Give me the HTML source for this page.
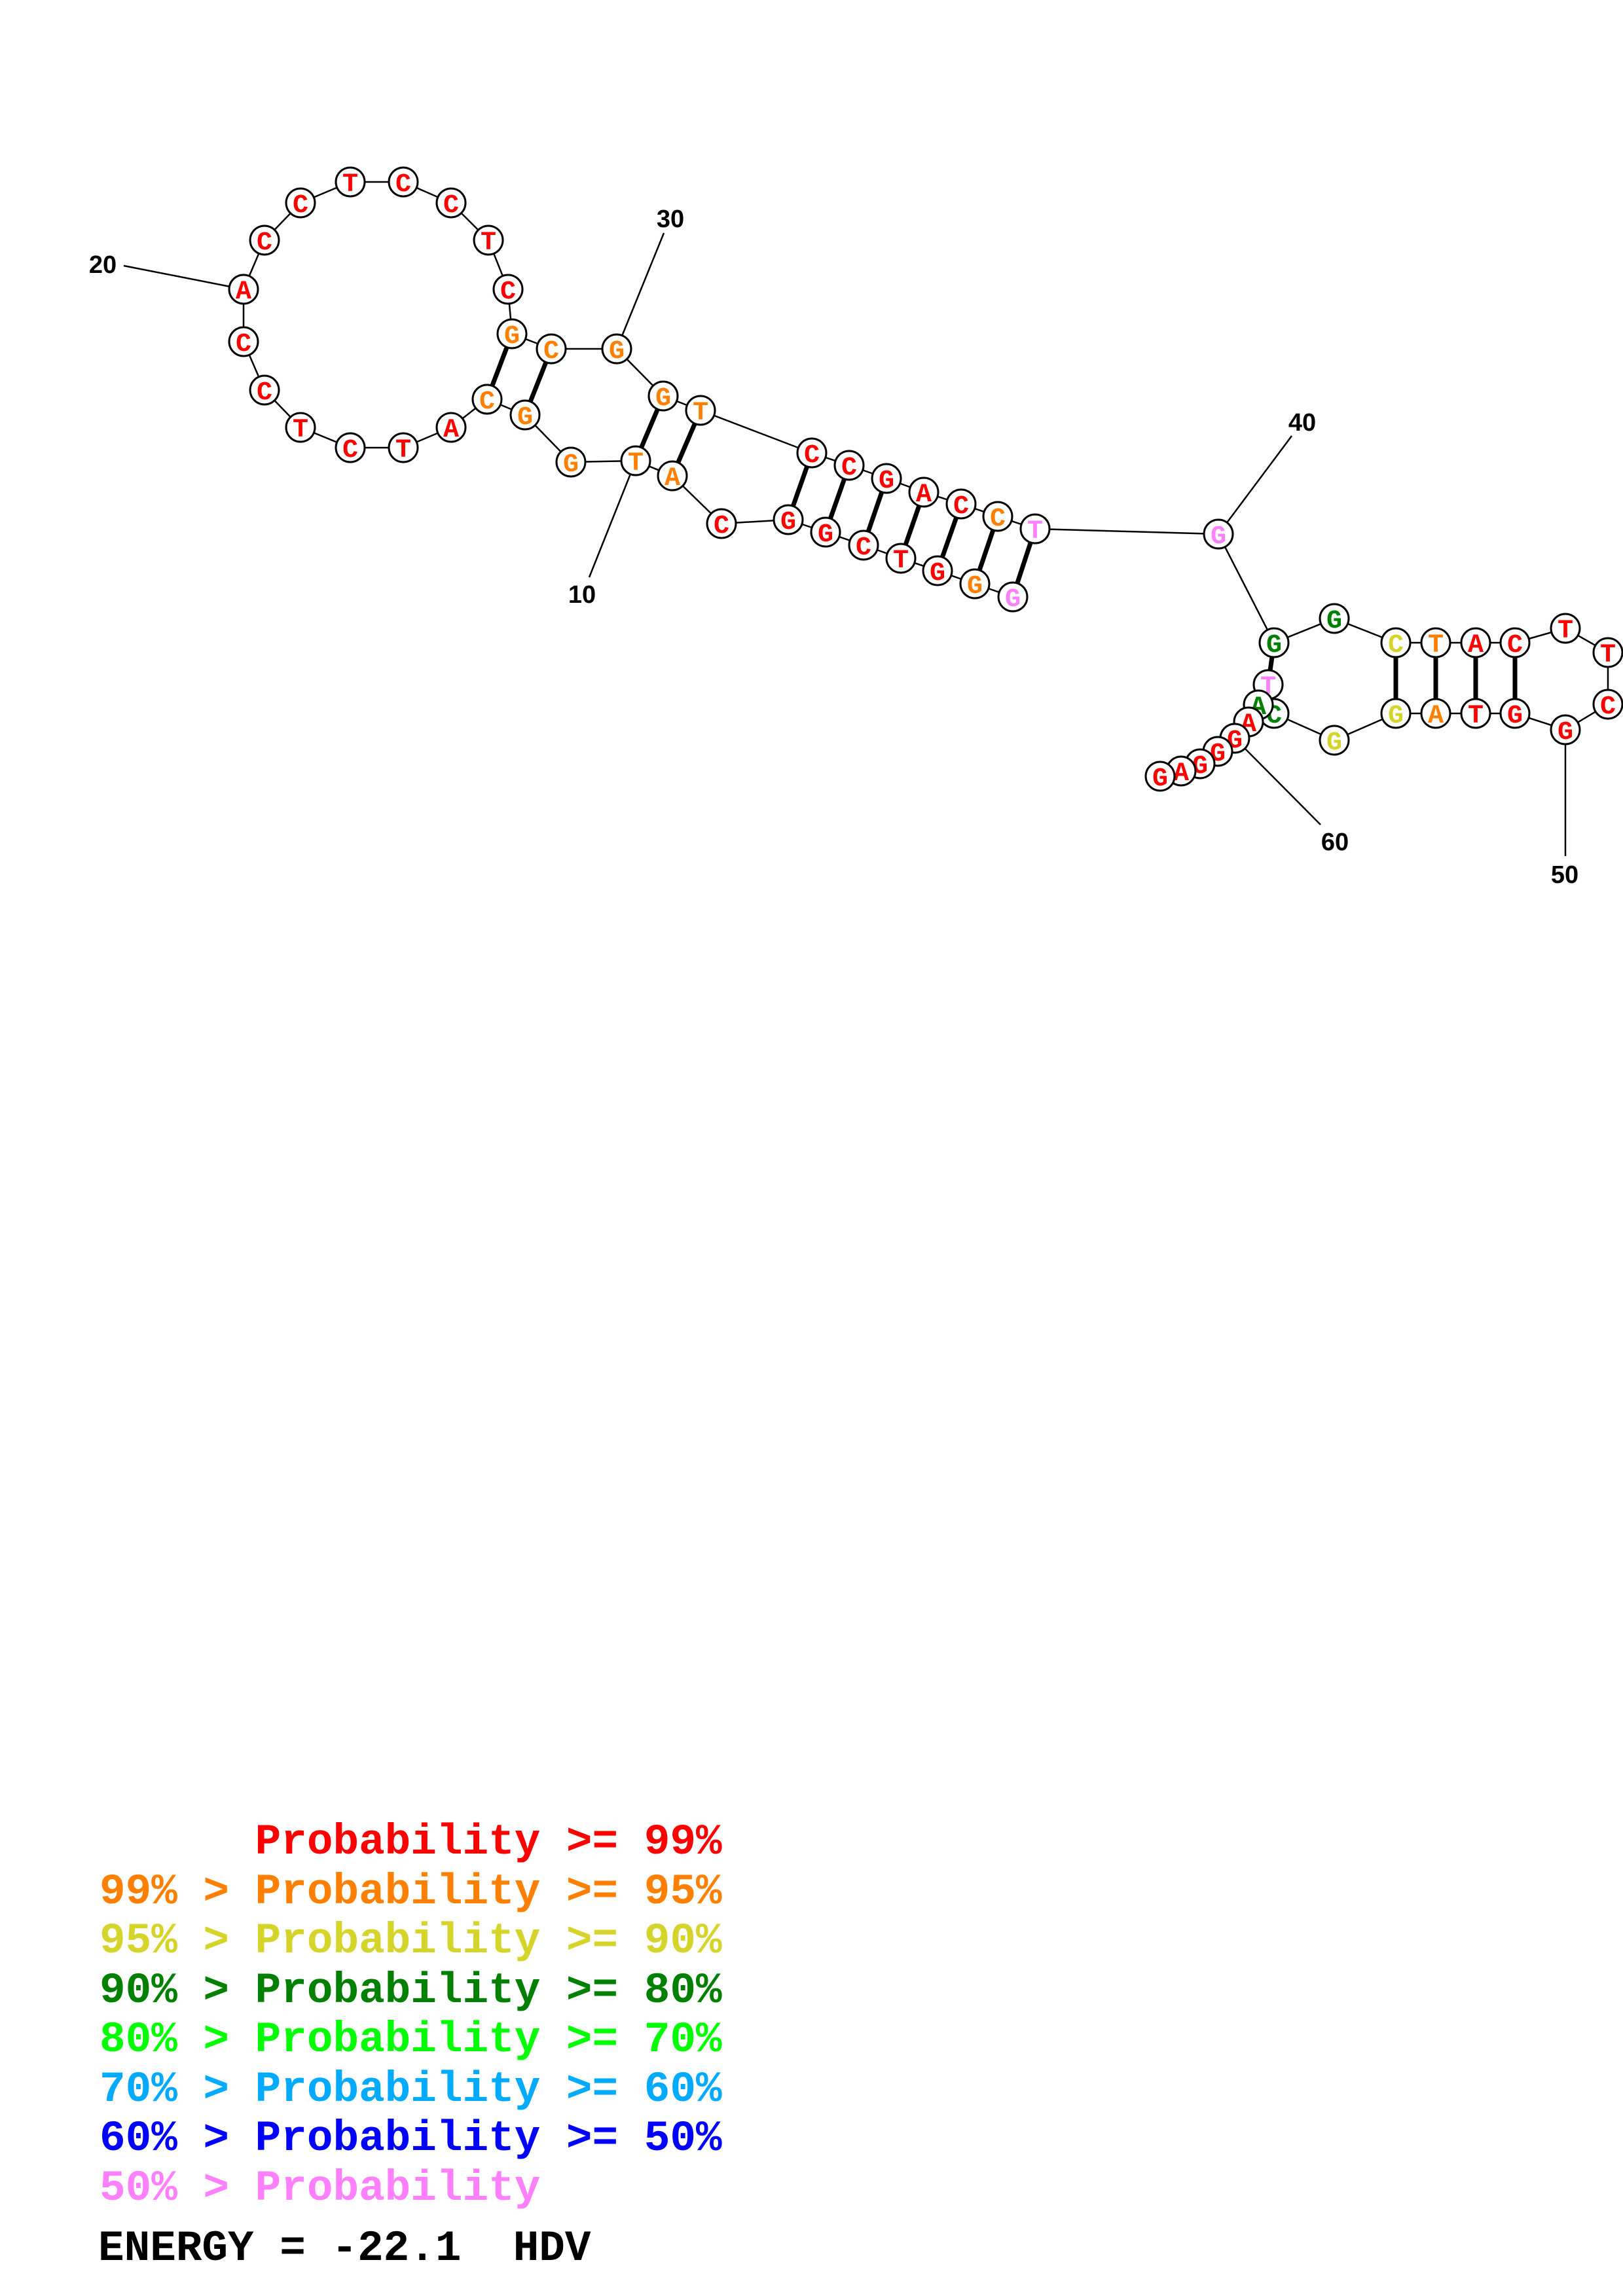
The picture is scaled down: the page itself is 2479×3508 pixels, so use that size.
<!DOCTYPE html>
<html><head><meta charset="utf-8"><style>
html,body{margin:0;padding:0;background:#fff;}
svg{display:block;}
.n text{font-family:"Liberation Mono",monospace;font-weight:bold;font-size:40px;text-anchor:middle;}
.lg{font-family:"Liberation Mono",monospace;font-weight:bold;font-size:66px;white-space:pre;}
.lb{font-family:"Liberation Sans",sans-serif;font-weight:bold;font-size:38px;text-anchor:middle;}
</style></head><body>
<svg width="2479" height="3508" viewBox="0 0 2479 3508" xmlns="http://www.w3.org/2000/svg">
<rect width="2479" height="3508" fill="#fff"/>
<g stroke="#000" stroke-width="2.5" fill="none">
<polyline points="1547,912 1489,892 1432,872 1376,853 1319,833 1261,813 1204,794 1102,800 1027,727 971,704 872,706 802,634 744,610 689,653 616,684 535,684 459,653 404,596 372,522 372,442 404,367 459,310 535,278 616,278 689,310 746,367 776,442 782,510 842,533 942,533 1013,605 1070,627 1240,692 1297,711 1354,731 1411,752 1468,770 1524,789 1581,808 1861,816 1946,982 2038,945 2132,982 2193,982 2254,982 2314,982 2391,960 2456,997 2456,1076 2391,1115 2314,1090 2254,1090 2193,1090 2132,1090 2038,1131 1946,1090 1937,1046 1922,1077 1907,1103 1886,1128 1860,1148 1833,1167 1804,1178 1772,1186"/>
<line x1="189" y1="406" x2="372" y2="442"/>
<line x1="1014" y1="356" x2="942" y2="533"/>
<line x1="1973" y1="666" x2="1861" y2="816"/>
<line x1="2391" y1="1115" x2="2391" y2="1308"/>
<line x1="1886" y1="1128" x2="2017" y2="1260"/>
<line x1="971" y1="704" x2="900" y2="882"/>
</g>
<g stroke="#000" stroke-width="7">
<line x1="1581" y1="808" x2="1547" y2="912"/>
<line x1="1524" y1="789" x2="1489" y2="892"/>
<line x1="1468" y1="770" x2="1432" y2="872"/>
<line x1="1411" y1="752" x2="1376" y2="853"/>
<line x1="1354" y1="731" x2="1319" y2="833"/>
<line x1="1297" y1="711" x2="1261" y2="813"/>
<line x1="1240" y1="692" x2="1204" y2="794"/>
<line x1="1070" y1="627" x2="1027" y2="727"/>
<line x1="1013" y1="605" x2="971" y2="704"/>
<line x1="842" y1="533" x2="802" y2="634"/>
<line x1="782" y1="510" x2="744" y2="610"/>
<line x1="1946" y1="982" x2="1937" y2="1046"/>
<line x1="2132" y1="982" x2="2132" y2="1090"/>
<line x1="2193" y1="982" x2="2193" y2="1090"/>
<line x1="2254" y1="982" x2="2254" y2="1090"/>
<line x1="2314" y1="982" x2="2314" y2="1090"/>
</g>
<text class="lb" x="157" y="417">20</text>
<text class="lb" x="1024" y="347">30</text>
<text class="lb" x="1989" y="658">40</text>
<text class="lb" x="889" y="921">10</text>
<text class="lb" x="2390" y="1349">50</text>
<text class="lb" x="2039" y="1299">60</text>
<g class="n" stroke="#000" stroke-width="3">
<g><circle cx="1547" cy="912" r="22" fill="#fff"/><text x="1547" y="926" fill="#ff80ff" stroke="none">G</text></g>
<g><circle cx="1489" cy="892" r="22" fill="#fff"/><text x="1489" y="906" fill="#ff8000" stroke="none">G</text></g>
<g><circle cx="1432" cy="872" r="22" fill="#fff"/><text x="1432" y="886" fill="#ff0000" stroke="none">G</text></g>
<g><circle cx="1376" cy="853" r="22" fill="#fff"/><text x="1376" y="867" fill="#ff0000" stroke="none">T</text></g>
<g><circle cx="1319" cy="833" r="22" fill="#fff"/><text x="1319" y="847" fill="#ff0000" stroke="none">C</text></g>
<g><circle cx="1261" cy="813" r="22" fill="#fff"/><text x="1261" y="827" fill="#ff0000" stroke="none">G</text></g>
<g><circle cx="1204" cy="794" r="22" fill="#fff"/><text x="1204" y="808" fill="#ff0000" stroke="none">G</text></g>
<g><circle cx="1102" cy="800" r="22" fill="#fff"/><text x="1102" y="814" fill="#ff0000" stroke="none">C</text></g>
<g><circle cx="1027" cy="727" r="22" fill="#fff"/><text x="1027" y="741" fill="#ff8000" stroke="none">A</text></g>
<g><circle cx="971" cy="704" r="22" fill="#fff"/><text x="971" y="718" fill="#ff8000" stroke="none">T</text></g>
<g><circle cx="872" cy="706" r="22" fill="#fff"/><text x="872" y="720" fill="#ff8000" stroke="none">G</text></g>
<g><circle cx="802" cy="634" r="22" fill="#fff"/><text x="802" y="648" fill="#ff8000" stroke="none">G</text></g>
<g><circle cx="744" cy="610" r="22" fill="#fff"/><text x="744" y="624" fill="#ff8000" stroke="none">C</text></g>
<g><circle cx="689" cy="653" r="22" fill="#fff"/><text x="689" y="667" fill="#ff0000" stroke="none">A</text></g>
<g><circle cx="616" cy="684" r="22" fill="#fff"/><text x="616" y="698" fill="#ff0000" stroke="none">T</text></g>
<g><circle cx="535" cy="684" r="22" fill="#fff"/><text x="535" y="698" fill="#ff0000" stroke="none">C</text></g>
<g><circle cx="459" cy="653" r="22" fill="#fff"/><text x="459" y="667" fill="#ff0000" stroke="none">T</text></g>
<g><circle cx="404" cy="596" r="22" fill="#fff"/><text x="404" y="610" fill="#ff0000" stroke="none">C</text></g>
<g><circle cx="372" cy="522" r="22" fill="#fff"/><text x="372" y="536" fill="#ff0000" stroke="none">C</text></g>
<g><circle cx="372" cy="442" r="22" fill="#fff"/><text x="372" y="456" fill="#ff0000" stroke="none">A</text></g>
<g><circle cx="404" cy="367" r="22" fill="#fff"/><text x="404" y="381" fill="#ff0000" stroke="none">C</text></g>
<g><circle cx="459" cy="310" r="22" fill="#fff"/><text x="459" y="324" fill="#ff0000" stroke="none">C</text></g>
<g><circle cx="535" cy="278" r="22" fill="#fff"/><text x="535" y="292" fill="#ff0000" stroke="none">T</text></g>
<g><circle cx="616" cy="278" r="22" fill="#fff"/><text x="616" y="292" fill="#ff0000" stroke="none">C</text></g>
<g><circle cx="689" cy="310" r="22" fill="#fff"/><text x="689" y="324" fill="#ff0000" stroke="none">C</text></g>
<g><circle cx="746" cy="367" r="22" fill="#fff"/><text x="746" y="381" fill="#ff0000" stroke="none">T</text></g>
<g><circle cx="776" cy="442" r="22" fill="#fff"/><text x="776" y="456" fill="#ff0000" stroke="none">C</text></g>
<g><circle cx="782" cy="510" r="22" fill="#fff"/><text x="782" y="524" fill="#ff8000" stroke="none">G</text></g>
<g><circle cx="842" cy="533" r="22" fill="#fff"/><text x="842" y="547" fill="#ff8000" stroke="none">C</text></g>
<g><circle cx="942" cy="533" r="22" fill="#fff"/><text x="942" y="547" fill="#ff8000" stroke="none">G</text></g>
<g><circle cx="1013" cy="605" r="22" fill="#fff"/><text x="1013" y="619" fill="#ff8000" stroke="none">G</text></g>
<g><circle cx="1070" cy="627" r="22" fill="#fff"/><text x="1070" y="641" fill="#ff8000" stroke="none">T</text></g>
<g><circle cx="1240" cy="692" r="22" fill="#fff"/><text x="1240" y="706" fill="#ff0000" stroke="none">C</text></g>
<g><circle cx="1297" cy="711" r="22" fill="#fff"/><text x="1297" y="725" fill="#ff0000" stroke="none">C</text></g>
<g><circle cx="1354" cy="731" r="22" fill="#fff"/><text x="1354" y="745" fill="#ff0000" stroke="none">G</text></g>
<g><circle cx="1411" cy="752" r="22" fill="#fff"/><text x="1411" y="766" fill="#ff0000" stroke="none">A</text></g>
<g><circle cx="1468" cy="770" r="22" fill="#fff"/><text x="1468" y="784" fill="#ff0000" stroke="none">C</text></g>
<g><circle cx="1524" cy="789" r="22" fill="#fff"/><text x="1524" y="803" fill="#ff8000" stroke="none">C</text></g>
<g><circle cx="1581" cy="808" r="22" fill="#fff"/><text x="1581" y="822" fill="#ff80ff" stroke="none">T</text></g>
<g><circle cx="1861" cy="816" r="22" fill="#fff"/><text x="1861" y="830" fill="#ff80ff" stroke="none">G</text></g>
<g><circle cx="1946" cy="982" r="22" fill="#fff"/><text x="1946" y="996" fill="#008000" stroke="none">G</text></g>
<g><circle cx="2038" cy="945" r="22" fill="#fff"/><text x="2038" y="959" fill="#008000" stroke="none">G</text></g>
<g><circle cx="2132" cy="982" r="22" fill="#fff"/><text x="2132" y="996" fill="#d4d42a" stroke="none">C</text></g>
<g><circle cx="2193" cy="982" r="22" fill="#fff"/><text x="2193" y="996" fill="#ff8000" stroke="none">T</text></g>
<g><circle cx="2254" cy="982" r="22" fill="#fff"/><text x="2254" y="996" fill="#ff0000" stroke="none">A</text></g>
<g><circle cx="2314" cy="982" r="22" fill="#fff"/><text x="2314" y="996" fill="#ff0000" stroke="none">C</text></g>
<g><circle cx="2391" cy="960" r="22" fill="#fff"/><text x="2391" y="974" fill="#ff0000" stroke="none">T</text></g>
<g><circle cx="2456" cy="997" r="22" fill="#fff"/><text x="2456" y="1011" fill="#ff0000" stroke="none">T</text></g>
<g><circle cx="2456" cy="1076" r="22" fill="#fff"/><text x="2456" y="1090" fill="#ff0000" stroke="none">C</text></g>
<g><circle cx="2391" cy="1115" r="22" fill="#fff"/><text x="2391" y="1129" fill="#ff0000" stroke="none">G</text></g>
<g><circle cx="2314" cy="1090" r="22" fill="#fff"/><text x="2314" y="1104" fill="#ff0000" stroke="none">G</text></g>
<g><circle cx="2254" cy="1090" r="22" fill="#fff"/><text x="2254" y="1104" fill="#ff0000" stroke="none">T</text></g>
<g><circle cx="2193" cy="1090" r="22" fill="#fff"/><text x="2193" y="1104" fill="#ff8000" stroke="none">A</text></g>
<g><circle cx="2132" cy="1090" r="22" fill="#fff"/><text x="2132" y="1104" fill="#d4d42a" stroke="none">G</text></g>
<g><circle cx="2038" cy="1131" r="22" fill="#fff"/><text x="2038" y="1145" fill="#d4d42a" stroke="none">G</text></g>
<g><circle cx="1946" cy="1090" r="22" fill="#fff"/><text x="1946" y="1104" fill="#008000" stroke="none">C</text></g>
<g><circle cx="1937" cy="1046" r="22" fill="#fff"/><text x="1937" y="1060" fill="#ff80ff" stroke="none">T</text></g>
<g><circle cx="1922" cy="1077" r="22" fill="#fff"/><text x="1922" y="1091" fill="#008000" stroke="none">A</text></g>
<g><circle cx="1907" cy="1103" r="22" fill="#fff"/><text x="1907" y="1117" fill="#ff0000" stroke="none">A</text></g>
<g><circle cx="1886" cy="1128" r="22" fill="#fff"/><text x="1886" y="1142" fill="#ff0000" stroke="none">G</text></g>
<g><circle cx="1860" cy="1148" r="22" fill="#fff"/><text x="1860" y="1162" fill="#ff0000" stroke="none">G</text></g>
<g><circle cx="1833" cy="1167" r="22" fill="#fff"/><text x="1833" y="1181" fill="#ff0000" stroke="none">G</text></g>
<g><circle cx="1804" cy="1178" r="22" fill="#fff"/><text x="1804" y="1192" fill="#ff0000" stroke="none">A</text></g>
<g><circle cx="1772" cy="1186" r="22" fill="#fff"/><text x="1772" y="1200" fill="#ff0000" stroke="none">G</text></g>
</g>
<text class="lg" x="152" y="2832" fill="#ff0000" xml:space="preserve">      Probability &gt;= 99%</text>
<text class="lg" x="152" y="2908" fill="#ff8000" xml:space="preserve">99% &gt; Probability &gt;= 95%</text>
<text class="lg" x="152" y="2983" fill="#d4d42a" xml:space="preserve">95% &gt; Probability &gt;= 90%</text>
<text class="lg" x="152" y="3059" fill="#008000" xml:space="preserve">90% &gt; Probability &gt;= 80%</text>
<text class="lg" x="152" y="3134" fill="#00ff00" xml:space="preserve">80% &gt; Probability &gt;= 70%</text>
<text class="lg" x="152" y="3210" fill="#00aaff" xml:space="preserve">70% &gt; Probability &gt;= 60%</text>
<text class="lg" x="152" y="3285" fill="#0000ff" xml:space="preserve">60% &gt; Probability &gt;= 50%</text>
<text class="lg" x="152" y="3361" fill="#ff80ff" xml:space="preserve">50% &gt; Probability</text>
<text class="lg" x="150" y="3453" fill="#000" xml:space="preserve">ENERGY = -22.1  HDV</text>
</svg>
</body></html>
